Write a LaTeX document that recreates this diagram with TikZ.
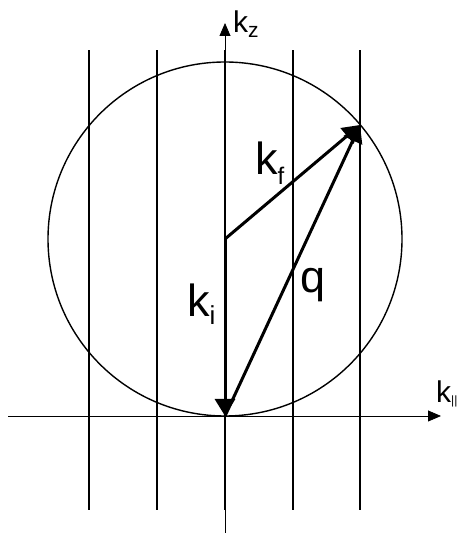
\documentclass[tikz,border=0pt]{standalone}
\usepackage{fontspec}
\setmainfont{Liberation Sans}
\usepackage{tikz}
\usetikzlibrary{arrows.meta}

\newcommand{\lowsub}[3]{\raisebox{-#1pt}{\fontsize{#2}{#2}\selectfont #3}}

\begin{document}
\begin{tikzpicture}[x=1pt, y=1pt,
    every node/.style={inner sep=0pt, anchor=base west},
    bigtxt/.style={font=\fontsize{45}{45}\selectfont},
    axtxt/.style={font=\fontsize{30}{30}\selectfont},
    vec/.style={line width=3pt, -{Triangle[length=17pt,width=20pt]}},
    axis/.style={line width=0.8pt, -{Triangle[length=13pt,width=11pt]}}]
    \useasboundingbox (0,0) rectangle (456,533);
    % Ewald sphere and reciprocal rods
    \coordinate (O) at (225,117);
    \coordinate (C) at (225,294);
    \coordinate (F) at (360,408);
    \draw[line width=1.4pt] (C) circle (177);
    \foreach \x in {89,157,225,293,360}{
      \draw[line width=1.4pt] (\x,23) -- (\x,483);
    }
    % axes
    \coordinate (xl) at (8,117);
    \coordinate (xr) at (441,117);
    \coordinate (zb) at (225,0);
    \coordinate (zt) at (225,510);
    \draw[axis] (xl) -- (xr);
    \draw[axis] (zb) -- (zt);
    \node[axtxt] (kz) at (233,500) {k\lowsub{5}{21}{z}};
    \node[axtxt] (kpar) at (436,130) {k\lowsub{2}{12}{||}};
    % wave vectors
    \draw[vec] (C) -- (O);
    \draw[vec] (C) -- (F);
    \draw[vec] (O) -- (F);
    \node[bigtxt] (kf) at (255,358) {k\lowsub{10}{24}{f}};
    \node[bigtxt] (ki) at (187,216) {k\lowsub{8}{26}{i}};
    \node[bigtxt] (q) at (300,240) {q};
\end{tikzpicture}
\end{document}
